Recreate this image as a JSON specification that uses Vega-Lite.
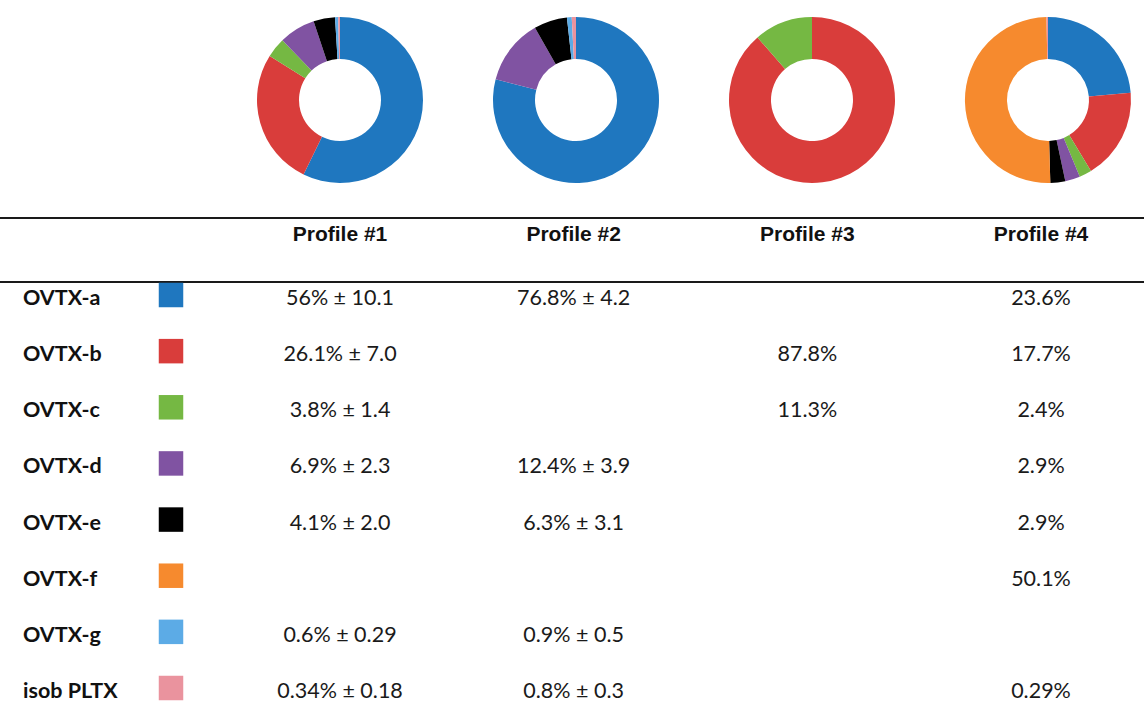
{
  "$schema": "https://vega.github.io/schema/vega-lite/v6.json",
  "width": 1144,
  "height": 704,
  "autosize": {"type": "none"},
  "padding": 0,
  "background": "white",
  "config": {"view": {"stroke": null}},
  "datasets": {
    "comp": [
      {"profile": "Profile #1", "component": "OVTX-a", "pct": 56, "label": "56% ± 10.1"},
      {"profile": "Profile #1", "component": "OVTX-b", "pct": 26.1, "label": "26.1% ± 7.0"},
      {"profile": "Profile #1", "component": "OVTX-c", "pct": 3.8, "label": "3.8% ± 1.4"},
      {"profile": "Profile #1", "component": "OVTX-d", "pct": 6.9, "label": "6.9% ± 2.3"},
      {"profile": "Profile #1", "component": "OVTX-e", "pct": 4.1, "label": "4.1% ± 2.0"},
      {"profile": "Profile #1", "component": "OVTX-g", "pct": 0.6, "label": "0.6% ± 0.29"},
      {"profile": "Profile #1", "component": "isob PLTX", "pct": 0.34, "label": "0.34% ± 0.18"},
      {"profile": "Profile #2", "component": "OVTX-a", "pct": 76.8, "label": "76.8% ± 4.2"},
      {"profile": "Profile #2", "component": "OVTX-d", "pct": 12.4, "label": "12.4% ± 3.9"},
      {"profile": "Profile #2", "component": "OVTX-e", "pct": 6.3, "label": "6.3% ± 3.1"},
      {"profile": "Profile #2", "component": "OVTX-g", "pct": 0.9, "label": "0.9% ± 0.5"},
      {"profile": "Profile #2", "component": "isob PLTX", "pct": 0.8, "label": "0.8% ± 0.3"},
      {"profile": "Profile #3", "component": "OVTX-b", "pct": 87.8, "label": "87.8%"},
      {"profile": "Profile #3", "component": "OVTX-c", "pct": 11.3, "label": "11.3%"},
      {"profile": "Profile #4", "component": "OVTX-a", "pct": 23.6, "label": "23.6%"},
      {"profile": "Profile #4", "component": "OVTX-b", "pct": 17.7, "label": "17.7%"},
      {"profile": "Profile #4", "component": "OVTX-c", "pct": 2.4, "label": "2.4%"},
      {"profile": "Profile #4", "component": "OVTX-d", "pct": 2.9, "label": "2.9%"},
      {"profile": "Profile #4", "component": "OVTX-e", "pct": 2.9, "label": "2.9%"},
      {"profile": "Profile #4", "component": "OVTX-f", "pct": 50.1, "label": "50.1%"},
      {"profile": "Profile #4", "component": "isob PLTX", "pct": 0.29, "label": "0.29%"}
    ],
    "components": [
      {"component": "OVTX-a"}, {"component": "OVTX-b"}, {"component": "OVTX-c"},
      {"component": "OVTX-d"}, {"component": "OVTX-e"}, {"component": "OVTX-f"},
      {"component": "OVTX-g"}, {"component": "isob PLTX"}
    ],
    "profiles": [
      {"profile": "Profile #1"}, {"profile": "Profile #2"}, {"profile": "Profile #3"}, {"profile": "Profile #4"}
    ],
    "lines": [{"line": "top"}, {"line": "mid"}]
  },
  "resolve": {"scale": {"x": "independent", "y": "independent"}},
  "layer": [
    {
      "data": {"name": "comp"},
      "transform": [
        {"stack": "pct", "groupby": ["profile"], "sort": [{"field": "component", "order": "ascending"}], "offset": "normalize", "as": ["v0", "v1"]}
      ],
      "mark": {"type": "arc", "innerRadius": 41, "outerRadius": 83},
      "encoding": {
        "theta": {"field": "v0", "type": "quantitative", "scale": {"domain": [0, 1]}},
        "theta2": {"field": "v1"},
        "x": {"field": "profile", "type": "nominal", "axis": null,
              "scale": {"type": "point", "domain": ["Profile #1", "Profile #2", "Profile #3", "Profile #4"], "range": [340, 1048], "padding": 0}},
        "y": {"datum": "rings", "type": "nominal", "axis": null,
              "scale": {"type": "point", "domain": ["rings"], "range": [17, 183]}},
        "color": {"field": "component", "type": "nominal", "legend": null,
                  "scale": {"domain": ["OVTX-a", "OVTX-b", "OVTX-c", "OVTX-d", "OVTX-e", "OVTX-f", "OVTX-g", "isob PLTX"],
                            "range": ["#1f77bf", "#d93d3b", "#75b843", "#8053a2", "#000000", "#f68a2e", "#5cabe6", "#ea939e"]}}
      }
    },
    {
      "data": {"name": "lines"},
      "mark": {"type": "rule", "color": "#1a1a1a", "strokeWidth": 2},
      "encoding": {
        "y": {"field": "line", "type": "nominal", "axis": null,
              "scale": {"type": "point", "domain": ["top", "mid"], "range": [218, 282], "padding": 0}}
      }
    },
    {
      "data": {"name": "profiles"},
      "mark": {"type": "text", "font": "Liberation Sans", "fontWeight": "bold", "fontSize": 21, "baseline": "middle", "align": "center", "color": "#111"},
      "encoding": {
        "text": {"field": "profile"},
        "x": {"field": "profile", "type": "nominal", "axis": null,
              "scale": {"type": "point", "domain": ["Profile #1", "Profile #2", "Profile #3", "Profile #4"], "range": [340, 1041], "padding": 0}},
        "y": {"datum": "header", "type": "nominal", "axis": null,
              "scale": {"type": "point", "domain": ["header"], "range": [215, 255]}}
      }
    },
    {
      "data": {"name": "comp"},
      "mark": {"type": "text", "font": "Lato", "fontSize": 21.5, "baseline": "middle", "align": "center", "color": "#1a1a1a"},
      "encoding": {
        "text": {"field": "label"},
        "x": {"field": "profile", "type": "nominal", "axis": null,
              "scale": {"type": "point", "domain": ["Profile #1", "Profile #2", "Profile #3", "Profile #4"], "range": [340, 1041], "padding": 0}},
        "y": {"field": "component", "type": "nominal", "axis": null,
              "scale": {"type": "point", "domain": ["OVTX-a", "OVTX-b", "OVTX-c", "OVTX-d", "OVTX-e", "OVTX-f", "OVTX-g", "isob PLTX"], "range": [299, 692], "padding": 0}}
      }
    },
    {
      "data": {"name": "components"},
      "mark": {"type": "text", "font": "Lato", "fontWeight": "bold", "fontSize": 21.5, "baseline": "middle", "align": "left", "color": "#111"},
      "encoding": {
        "text": {"field": "component"},
        "x": {"datum": "name", "type": "nominal", "axis": null,
              "scale": {"type": "point", "domain": ["name", "swatch"], "range": [23, 171], "padding": 0}},
        "y": {"field": "component", "type": "nominal", "axis": null,
              "scale": {"type": "point", "domain": ["OVTX-a", "OVTX-b", "OVTX-c", "OVTX-d", "OVTX-e", "OVTX-f", "OVTX-g", "isob PLTX"], "range": [299, 692], "padding": 0}}
      }
    },
    {
      "data": {"name": "components"},
      "mark": {"type": "square", "size": 600, "opacity": 1, "filled": true},
      "encoding": {
        "x": {"datum": "swatch", "type": "nominal", "axis": null,
              "scale": {"type": "point", "domain": ["name", "swatch"], "range": [23, 171], "padding": 0}},
        "y": {"field": "component", "type": "nominal", "axis": null,
              "scale": {"type": "point", "domain": ["OVTX-a", "OVTX-b", "OVTX-c", "OVTX-d", "OVTX-e", "OVTX-f", "OVTX-g", "isob PLTX"], "range": [295, 688], "padding": 0}},
        "color": {"field": "component", "type": "nominal", "legend": null}
      }
    }
  ]
}
